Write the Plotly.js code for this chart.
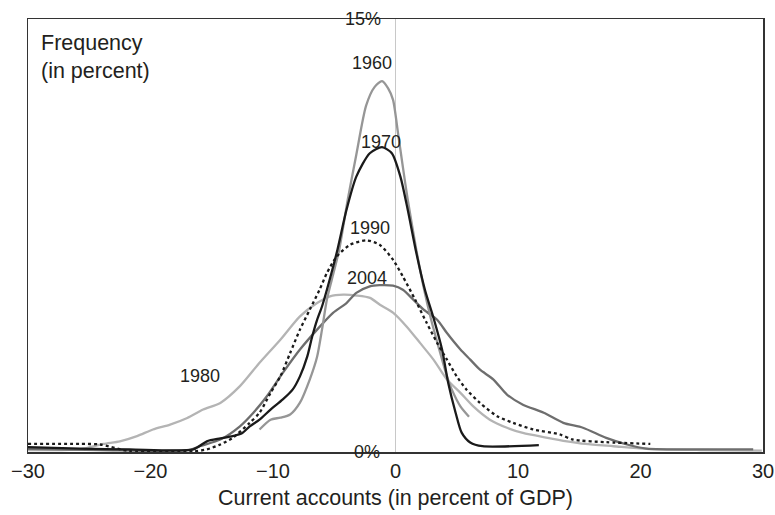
<!DOCTYPE html>
<html>
<head>
<meta charset="utf-8">
<script src="https://cdn.plot.ly/plotly-3.0.1.min.js"></script>
<style>
  html, body { margin: 0; padding: 0; background: #ffffff; }
  #chart { width: 775px; height: 515px; }
</style>
</head>
<body>
<div id="chart"></div>
<script>
// ---- Data ----
const x1960 = [-11.1, -10.2, -9.4, -8.6, -7.8, -7.0, -6.4, -6.0, -5.6, -5.2, -4.6, -3.9, -3.2, -2.4, -1.7, -1.1, -0.6, -0.2, 0.2, 0.6, 1.0, 1.7, 2.3, 2.9, 3.5, 4.2, 4.6, 5.3, 6.0];
const y1960 = [0.78, 1.12, 1.19, 1.3, 1.71, 2.51, 3.3, 4.24, 5.28, 5.97, 7.0, 8.74, 10.3, 12.0, 12.65, 12.85, 12.6, 12.2, 11.06, 9.88, 8.74, 7.0, 5.7, 4.6, 3.66, 2.62, 2.16, 1.58, 1.22];

const x1970 = [-30, -25.8, -21.7, -16.5, -15.4, -14.3, -13.3, -12.5, -11.9, -11.1, -10.2, -9.2, -8.4, -7.8, -7.2, -6.8, -6.4, -6.0, -5.6, -4.8, -4.0, -3.2, -2.1, -1.1, -0.3, 0.4, 1.0, 1.7, 2.4, 3.1, 3.8, 4.3, 4.9, 5.4, 6.1, 7.1, 11.7];
const y1970 = [0.17, 0.12, 0.09, 0.09, 0.37, 0.47, 0.55, 0.66, 0.89, 1.12, 1.47, 1.82, 2.16, 2.62, 3.31, 4.0, 4.58, 5.04, 5.62, 6.9, 8.39, 9.54, 10.35, 10.56, 10.35, 9.54, 8.39, 6.9, 5.62, 4.65, 3.55, 2.4, 1.37, 0.67, 0.33, 0.2, 0.24];

const x1980 = [-30, -25.8, -23.85, -22.5, -21.1, -19.8, -18.4, -17.0, -15.7, -14.3, -12.7, -11.1, -9.4, -7.8, -6.4, -5.35, -4.26, -3.17, -2.08, -1.27, -0.18, 0.9, 2.0, 3.1, 4.2, 5.3, 6.35, 7.7, 9.1, 10.4, 12.3, 14.0, 15.5, 17.8, 20.5, 24.9, 29.9];
const y1980 = [0.07, 0.09, 0.28, 0.37, 0.55, 0.78, 0.95, 1.18, 1.47, 1.7, 2.28, 3.09, 3.89, 4.7, 5.16, 5.39, 5.45, 5.42, 5.34, 5.1, 4.82, 4.35, 3.78, 3.2, 2.51, 2.05, 1.58, 1.12, 0.84, 0.66, 0.5, 0.37, 0.28, 0.2, 0.11, 0.07, 0.05];

const x1990 = [-30, -25.8, -24.1, -21.7, -16.5, -15.4, -14.3, -13.3, -11.9, -11.1, -10.2, -9.4, -8.6, -7.8, -7.0, -6.2, -5.6, -4.8, -3.7, -2.35, -1.3, -0.2, 0.6, 1.6, 2.55, 3.4, 4.2, 5.0, 5.8, 6.9, 8.3, 9.6, 11.25, 13.4, 14.5, 17.2, 20.8];
const y1990 = [0.28, 0.28, 0.26, 0.03, 0.02, 0.09, 0.26, 0.49, 1.01, 1.36, 2.05, 2.62, 3.43, 4.24, 4.93, 5.62, 6.2, 6.77, 7.18, 7.33, 7.18, 6.66, 6.08, 5.28, 4.47, 3.78, 3.2, 2.62, 2.16, 1.7, 1.24, 1.01, 0.78, 0.61, 0.43, 0.34, 0.28];

const x2004 = [-30, -24.1, -16.8, -16.0, -14.3, -12.7, -11.6, -10.5, -9.2, -7.8, -6.4, -5.1, -4.0, -3.2, -2.1, -1.3, -0.2, 0.6, 1.45, 2.3, 3.4, 4.2, 5.3, 6.1, 6.9, 8.0, 9.1, 10.4, 12.1, 13.7, 15.3, 17.2, 18.9, 20.5, 24.9, 29.2];
const y2004 = [0.11, 0.07, 0.07, 0.2, 0.43, 0.89, 1.36, 1.93, 2.74, 3.55, 4.24, 4.82, 5.16, 5.51, 5.74, 5.78, 5.76, 5.62, 5.28, 4.93, 4.58, 4.12, 3.55, 3.2, 2.85, 2.51, 1.99, 1.64, 1.36, 1.01, 0.84, 0.49, 0.26, 0.12, 0.09, 0.09];

const xTickVals = [-30, -20, -10, 0, 10, 20, 30];
const yTickText = ['0%', '15%'];

const seriesLabels = [
  {name: '1960', x: -1.94, y: 13.48},
  {name: '1970', x: -1.21, y: 10.75},
  {name: '1990', x: -2.08, y: 7.77},
  {name: '2004', x: -2.35, y: 6.03},
  {name: '1980', x: -16.0, y: 2.62}
];

// ---- Styling ----
const FONT = 'Liberation Sans, Arial, Helvetica, sans-serif';
const TXT = '#231f20';

function line(x, y, name, color, dash) {
  return {
    type: 'scatter', mode: 'lines', x: x, y: y, name: name,
    line: {color: color, width: 2.3, dash: dash || 'solid', shape: 'spline', smoothing: 0.7},
    hoverinfo: 'x+y+name'
  };
}

const traces = [
  line(x1980, y1980, '1980', '#b4b4b4'),
  line(x2004, y2004, '2004', '#6e6e6e'),
  line(x1960, y1960, '1960', '#969696'),
  line(x1990, y1990, '1990', '#1a1a1a', 'dot'),
  line(x1970, y1970, '1970', '#1a1a1a')
];

const annotations = seriesLabels.map(l => ({
  x: l.x, y: l.y, xref: 'x', yref: 'y', text: l.name, showarrow: false,
  xanchor: 'center', yanchor: 'middle', font: {family: FONT, size: 18, color: TXT}
}));
annotations.push({
  x: -2.65, y: 15, xref: 'x', yref: 'y', text: yTickText[1], showarrow: false,
  xanchor: 'center', yanchor: 'middle', font: {family: FONT, size: 18, color: TXT}
});
annotations.push({
  x: -2.33, y: 0, xref: 'x', yref: 'y', text: yTickText[0], showarrow: false,
  xanchor: 'center', yanchor: 'middle', font: {family: FONT, size: 18, color: TXT}
});
annotations.push({
  x: 0.015, y: 0.978, xref: 'paper', yref: 'paper', text: 'Frequency<br>(in percent)',
  showarrow: false, xanchor: 'left', yanchor: 'top', align: 'left',
  font: {family: FONT, size: 21.5, color: TXT}
});

const layout = {
  width: 775, height: 515,
  margin: {l: 28, r: 12, t: 19, b: 62.5, pad: 0},
  paper_bgcolor: '#ffffff', plot_bgcolor: '#ffffff',
  showlegend: false,
  font: {family: FONT, color: TXT, size: 19},
  xaxis: {
    range: [-30, 30], tickvals: xTickVals, ticks: '', showgrid: false,
    zeroline: true, zerolinecolor: '#c8c8c8', zerolinewidth: 1,
    showline: true, linecolor: '#333333', linewidth: 1.5, mirror: true,
    tickfont: {family: FONT, size: 20, color: TXT},
    title: {text: 'Current accounts (in percent of GDP)', standoff: 9,
            font: {family: FONT, size: 21.5, color: TXT}},
    automargin: false, fixedrange: true
  },
  yaxis: {
    range: [0, 15], showticklabels: false, ticks: '', showgrid: false, zeroline: false,
    showline: true, linecolor: '#333333', linewidth: 1.5, mirror: true,
    automargin: false, fixedrange: true
  },
  annotations: annotations
};

Plotly.newPlot('chart', traces, layout, {displayModeBar: false, staticPlot: true});
</script>
</body>
</html>
